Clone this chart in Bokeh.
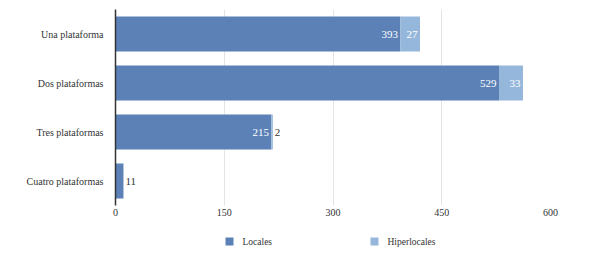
from bokeh.plotting import figure
from bokeh.layouts import column
from bokeh.models import ColumnDataSource, FactorRange, Range1d, FixedTicker
from bokeh.core.properties import value
from bokeh.embed import file_html
from bokeh.resources import INLINE

categories = ["Una plataforma", "Dos plataformas", "Tres plataformas", "Cuatro plataformas"]
locales = [393, 529, 215, 11]
hiperlocales = [27, 33, 2, 0]
series_names = ["Locales", "Hiperlocales"]
x_ticks = [0, 150, 300, 450, 600]

FONT = "'Liberation Serif', 'DejaVu Serif', serif"
C_LOC = "#5b81b7"
C_HIP = "#95b7dc"
TXT = "#333333"

p = figure(width=590, height=227, output_backend="svg", toolbar_location=None,
           y_range=FactorRange(factors=categories[::-1], range_padding=0),
           x_range=Range1d(0, 600),
           min_border_left=115, min_border_right=40, min_border_top=9, min_border_bottom=22)
p.outline_line_color = None
p.background_fill_color = "white"

ends_loc = locales
ends_hip = [a + b for a, b in zip(locales, hiperlocales)]

src_loc = ColumnDataSource(dict(y=categories, left=[0] * 4, right=ends_loc))
src_hip = ColumnDataSource(dict(y=categories, left=ends_loc, right=ends_hip))

p.hbar(y="y", left="left", right="right", height=0.71, source=src_loc,
       fill_color=C_LOC, line_color=None)
p.hbar(y="y", left="left", right="right", height=0.71, source=src_hip,
       fill_color=C_HIP, line_color=None)

# data labels: inside (white, right-aligned) when the segment is wide enough, else outside
lx, ly, lt, lo, la, lc = [], [], [], [], [], []
for c, a, b in zip(categories, locales, hiperlocales):
    for (s, e) in [(0, a), (a, a + b)]:
        v = e - s
        if v <= 0:
            continue
        inside = v >= 15
        lx.append(e)
        ly.append(c)
        lt.append(str(v))
        lo.append(-2.5 if inside else 2)
        la.append("right" if inside else "left")
        lc.append("white" if inside else TXT)
src_lab = ColumnDataSource(dict(x=lx, y=ly, t=lt, o=lo, a=la, c=lc))
p.text(x="x", y="y", text="t", x_offset="o", text_align="a", text_color="c",
       text_baseline="middle", text_font=value(FONT), text_font_size="11px", source=src_lab)

# axes
p.xaxis.ticker = FixedTicker(ticks=x_ticks)
p.xaxis.axis_line_color = None
p.xaxis.major_tick_line_color = None
p.xaxis.major_tick_out = 0
p.xaxis.major_tick_in = 0
p.xaxis.minor_tick_line_color = None
p.xaxis.major_label_text_font = FONT
p.xaxis.major_label_text_font_size = "10px"
p.xaxis.major_label_text_color = TXT
p.xaxis.major_label_standoff = 3

p.yaxis.axis_line_color = "#333333"
p.yaxis.axis_line_width = 1.5
p.yaxis.major_tick_line_color = None
p.yaxis.major_tick_out = 0
p.yaxis.major_tick_in = 0
p.yaxis.minor_tick_line_color = None
p.yaxis.major_label_text_font = FONT
p.yaxis.major_label_text_font_size = "10px"
p.yaxis.major_label_text_color = TXT
p.yaxis.major_label_standoff = 12

p.xgrid.grid_line_color = "#e4e4e4"
p.xgrid.ticker = FixedTicker(ticks=x_ticks)
p.ygrid.grid_line_color = None

# legend strip; its frame is aligned with the main frame (pixels 115..550)
lf = figure(width=590, height=28, output_backend="svg", toolbar_location=None,
            x_range=Range1d(115, 550), y_range=Range1d(0, 28),
            min_border_left=115, min_border_right=40,
            min_border_top=0, min_border_bottom=0)
lf.axis.visible = False
lf.grid.visible = False
lf.outline_line_color = None
leg_x = [225, 370]
leg_src = ColumnDataSource(dict(x=[v + 4 for v in leg_x], tx=[v + 17 for v in leg_x],
                                y=[14, 14], c=[C_LOC, C_HIP], t=series_names))
lf.rect(x="x", y="y", width=8, height=8, fill_color="c", line_color=None, source=leg_src)
lf.text(x="tx", y="y", text="t", text_baseline="middle", text_align="left",
        text_font=value(FONT), text_font_size="9.5px", text_color=TXT, source=leg_src)

layout = column(p, lf, spacing=0)
open("out.html", "w").write(file_html(layout, INLINE))
